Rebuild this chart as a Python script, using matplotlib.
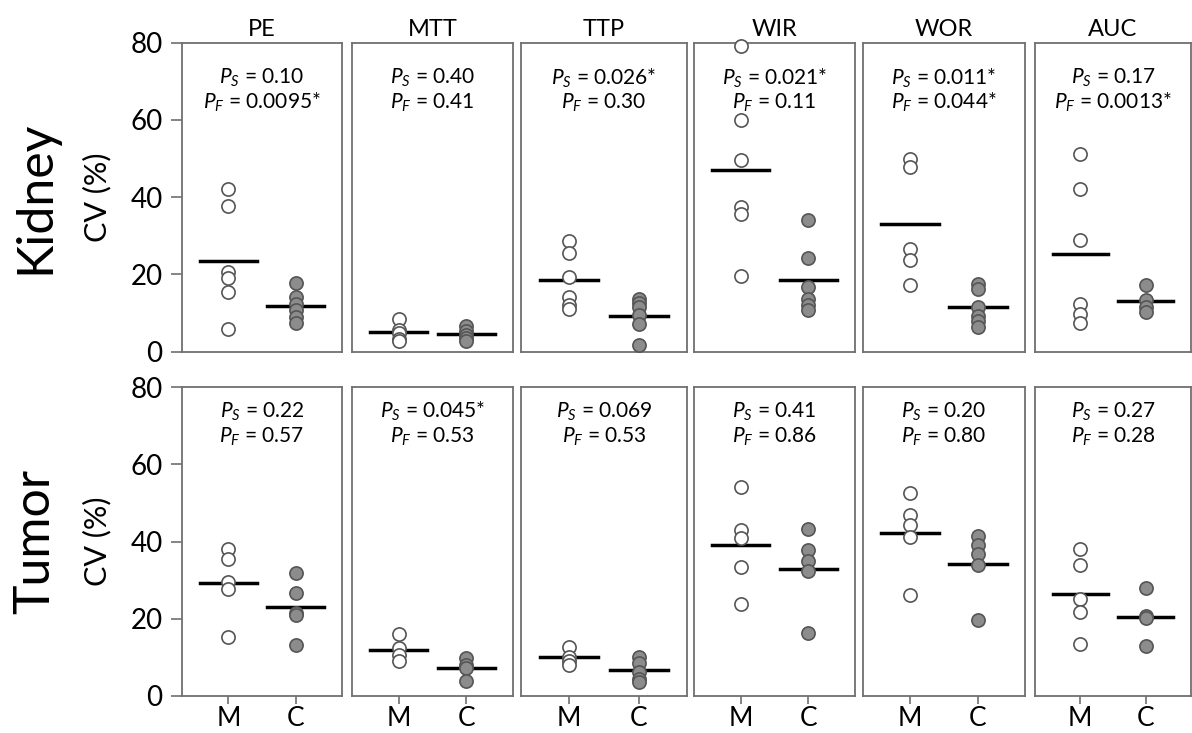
import numpy as np
import matplotlib
matplotlib.use("Agg")
import matplotlib.pyplot as plt

plt.rcParams['font.family'] = ['Lato', 'DejaVu Sans']
plt.rcParams['mathtext.fontset'] = 'custom'
plt.rcParams['mathtext.rm'] = 'Lato'
plt.rcParams['mathtext.it'] = 'Lato:italic'

metrics = ["PE", "MTT", "TTP", "WIR", "WOR", "AUC"]
groups = ["M", "C"]

# Kidney CV (%) per metric
kidney_M = [
    [42.2, 37.7, 20.6, 19.1, 15.3, 5.8],
    [8.5, 5.5, 4.8, 3.2, 2.8],
    [28.6, 25.5, 19.3, 14.0, 12.0, 11.0],
    [79.2, 60.0, 49.7, 37.4, 35.7, 19.5],
    [49.9, 47.8, 26.6, 23.6, 17.2],
    [51.2, 42.2, 28.8, 12.4, 9.8, 7.4],
]
kidney_C = [
    [17.8, 14.1, 12.4, 10.7, 9.0, 7.4],
    [6.5, 5.2, 4.4, 3.5, 2.6],
    [13.7, 12.5, 11.5, 9.4, 7.2, 1.6],
    [34.0, 24.1, 16.7, 13.7, 12.0, 10.7],
    [17.6, 16.3, 11.5, 9.1, 8.0, 6.4],
    [17.2, 13.3, 11.5, 10.2],
]
# Tumor CV (%) per metric
tumor_M = [
    [38.0, 35.5, 29.6, 27.7, 15.4],
    [16.0, 12.5, 10.5, 9.0],
    [12.8, 10.2, 9.0, 8.0],
    [54.1, 43.0, 41.0, 33.5, 23.8],
    [52.5, 46.9, 44.3, 41.3, 26.2],
    [38.1, 33.9, 25.1, 21.8, 13.4],
]
tumor_C = [
    [32.0, 26.8, 21.6, 21.0, 13.3],
    [9.8, 8.0, 7.2, 3.8],
    [10.2, 8.5, 6.3, 4.5, 3.7],
    [43.2, 37.8, 35.1, 32.4, 16.2],
    [41.5, 39.1, 36.7, 33.9, 19.7],
    [27.9, 20.8, 20.1, 13.0],
]

kidney_PS = ["0.10", "0.40", "0.026*", "0.021*", "0.011*", "0.17"]
kidney_PF = ["0.0095*", "0.41", "0.30", "0.11", "0.044*", "0.0013*"]
tumor_PS = ["0.22", "0.045*", "0.069", "0.41", "0.20", "0.27"]
tumor_PF = ["0.57", "0.53", "0.53", "0.86", "0.80", "0.28"]

rows = [
    ("Kidney", kidney_M, kidney_C, kidney_PS, kidney_PF, (42.5, 351.5), (0.885, 0.805)),
    ("Tumor", tumor_M, tumor_C, tumor_PS, tumor_PF, (387.3, 696.0), (0.922, 0.838)),
]

W, H = 1192, 733
fig = plt.figure(figsize=(W / 100, H / 100), dpi=100)
fig.patch.set_facecolor('white')

lefts = [182, 352, 521, 694, 863, 1035]
rights = [342, 513, 687, 855, 1025, 1191]
edge = '#555555'
spine_col = '#707070'

for r, (rowname, dataM, dataC, PS, PF, (ytop, ybot), (t1, t2)) in enumerate(rows):
    for i, m in enumerate(metrics):
        ax = fig.add_axes([lefts[i] / W, 1 - ybot / H,
                           (rights[i] - lefts[i]) / W, (ybot - ytop) / H])
        ax.set_xlim(-0.69, 1.69)
        ax.set_ylim(0, 80)
        for s in ax.spines.values():
            s.set_color(spine_col)
            s.set_linewidth(1.3)

        for g, (vals, fc) in enumerate([(dataM[i], 'white'), (dataC[i], '#8c8c8c')]):
            ax.plot(np.full(len(vals), g), vals, 'o', ms=9.5, mfc=fc, mec=edge,
                    mew=1.2, zorder=3, clip_on=False)
            mu = np.mean(vals)
            ax.plot([g - 0.42, g + 0.42], [mu, mu], color='black', lw=2.5, zorder=2)

        ax.text(0.5, t1, r"$P_S$ = " + PS[i], transform=ax.transAxes,
                ha='center', va='center', fontsize=15)
        ax.text(0.5, t2, r"$P_F$ = " + PF[i], transform=ax.transAxes,
                ha='center', va='center', fontsize=15)

        if i == 0:
            ax.set_yticks([0, 20, 40, 60, 80])
            ax.tick_params(axis='y', length=8, width=1.2, color=spine_col,
                           labelsize=20, pad=6)
        else:
            ax.set_yticks([])

        if r == 0:
            ax.set_xticks([])
            ax.set_title(m, fontsize=17, pad=5)
        else:
            ax.set_xticks([0, 1])
            ax.set_xticklabels(groups)
            ax.tick_params(axis='x', length=6, width=1.2, color=spine_col,
                           labelsize=19, pad=1.5)

    yc = 1 - (ytop + ybot) / 2 / H
    fig.text(35 / W, yc, rowname, rotation=90, ha='center', va='center', fontsize=36)
    fig.text(97 / W, yc, "CV (%)", rotation=90, ha='center', va='center', fontsize=22)

fig.savefig("out.png", dpi=100, facecolor='white')
